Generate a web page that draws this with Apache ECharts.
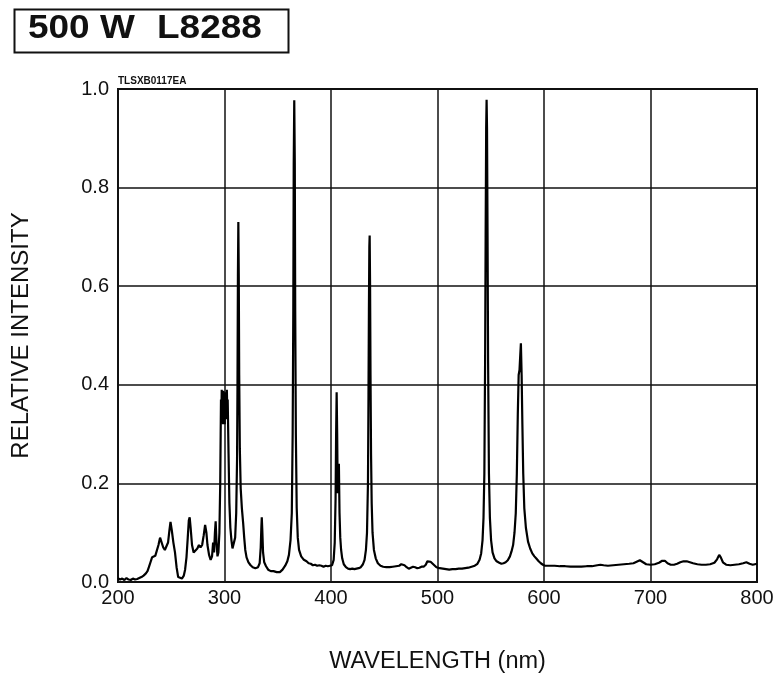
<!DOCTYPE html>
<html>
<head>
<meta charset="utf-8">
<script src="https://cdn.jsdelivr.net/npm/echarts@6/dist/echarts.min.js"></script>
<style>
html,body{margin:0;padding:0;background:#fff;}
#chart{width:776px;height:677px;}
</style>
</head>
<body>
<div id="chart"></div>
<script>
// Wavelength (nm) samples (one line per region)
var wavelength = [
200,202,204,206,208,210,212,214,216,218,220,222,224,226,227.7,229,230.5,232,233.5,235,236.5,238,239.5,241,242.5,244,245.5,247,248.3,249.3,250.5,252,253.5,255,256.5,258,260,
261.8,263,264.3,265.5,266.5,267.3,268.2,269.5,271,272.8,274.5,276,277.5,279,280.5,281.8,283,284,285.5,287,288.3,289.3,290.2,291,291.7,292.5,293.4,294.3,295.2,
296,296.4,296.7,297.1,297.4,297.8,298.2,298.6,299,299.4,299.8,300.2,300.6,301,301.4,301.8,302.2,302.6,303,303.8,304.6,305.5,306.5,307.5,308.8,310,
311,311.8,312.2,312.6,313,313.4,313.8,314.4,315.2,316.3,317.5,318.5,319.5,320.7,322.5,324.5,326.5,329,331.5,
333,334,334.6,335,335.5,336.2,337.3,339,341,343.5,346,349,352,354.5,357,359,360.5,362,
363.2,364,364.6,365,365.5,366,366.4,367,367.8,368.8,370,372,374.5,377,379,381,383,385,387,389,391,393,395,397,399,401,
402.5,403.5,404.3,404.8,405.3,405.8,406.3,406.9,407.4,408,408.7,409.5,410.5,412,414,416,418,420,422,424,426,428,430,
431.5,432.8,433.8,434.7,435.2,435.6,436,436.3,436.7,437.1,437.6,438.2,439,440.3,442,444,446.5,449,452,455,458,461,464,466,467.5,469,471,473,475,477,479,481,483,485,487,489,490.5,492,493.5,495,497,499,
502,505,508,511,514,517,520,523,526,529,532,535,537.5,539.5,541,542.3,543.2,544,
544.7,545.2,545.7,546.1,546.5,547,547.5,548.3,549.2,550.3,551.7,553.5,555.5,558,560,562,564,566,568,
569.5,571,572.3,573.5,574.5,575.4,576.2,577,577.7,578.3,579,579.7,580.5,581.5,583,585,587,589,591,593,595,597,599,601,
605,610,615,620,625,630,635,640,645,650,653,656,660,665,670,675,680,684,687,690,693,696,700,704,708,711,713.5,716,719,722,725,728,731,734,737,740,744,748,752,756,760,762.5,764.5,766,768,771,775,779,783,787,790,793,796,800
];
// Relative intensity at each wavelength above (same line layout)
var intensity = [
0.008,0.005,0.007,0.004,0.008,0.005,0.004,0.007,0.005,0.006,0.008,0.010,0.013,0.017,0.022,0.030,0.040,0.050,0.048,0.053,0.056,0.075,0.090,0.086,0.070,0.065,0.064,0.080,0.105,0.122,0.105,0.080,0.060,0.030,0.010,0.006,0.007,
0.013,0.025,0.050,0.090,0.125,0.131,0.110,0.075,0.060,0.056,0.068,0.075,0.070,0.075,0.095,0.116,0.100,0.075,0.055,0.045,0.052,0.080,0.060,0.100,0.123,0.080,0.052,0.060,0.100,
0.200,0.300,0.370,0.340,0.390,0.330,0.370,0.320,0.388,0.330,0.380,0.320,0.385,0.340,0.375,0.330,0.390,0.350,0.370,0.260,0.160,0.110,0.085,0.068,0.072,0.090,
0.140,0.250,0.400,0.620,0.730,0.620,0.420,0.270,0.190,0.150,0.120,0.090,0.065,0.050,0.040,0.034,0.030,0.028,0.030,
0.038,0.070,0.110,0.131,0.105,0.060,0.040,0.032,0.025,0.022,0.022,0.020,0.020,0.025,0.033,0.042,0.055,0.085,
0.140,0.300,0.550,0.850,0.977,0.850,0.550,0.300,0.150,0.090,0.065,0.052,0.045,0.042,0.038,0.037,0.034,0.035,0.033,0.034,0.033,0.031,0.033,0.032,0.033,0.034,
0.045,0.080,0.170,0.300,0.385,0.300,0.180,0.200,0.240,0.140,0.090,0.065,0.048,0.036,0.030,0.027,0.026,0.027,0.026,0.027,0.028,0.030,0.036,
0.045,0.065,0.100,0.200,0.380,0.550,0.680,0.703,0.600,0.420,0.260,0.160,0.100,0.065,0.048,0.038,0.033,0.031,0.030,0.030,0.031,0.032,0.033,0.036,0.039,0.034,0.030,0.027,0.029,0.031,0.030,0.028,0.029,0.031,0.031,0.035,0.042,0.044,0.041,0.042,0.034,0.030,
0.028,0.027,0.026,0.025,0.026,0.026,0.027,0.027,0.028,0.029,0.031,0.033,0.037,0.045,0.058,0.085,0.130,0.220,
0.450,0.700,0.920,0.978,0.920,0.700,0.450,0.220,0.130,0.085,0.060,0.048,0.042,0.039,0.037,0.038,0.040,0.044,0.052,
0.062,0.075,0.100,0.140,0.220,0.340,0.420,0.430,0.460,0.484,0.420,0.320,0.220,0.150,0.110,0.082,0.068,0.058,0.052,0.047,0.042,0.038,0.035,0.033,
0.033,0.033,0.032,0.032,0.031,0.031,0.031,0.032,0.032,0.034,0.035,0.034,0.033,0.034,0.035,0.036,0.037,0.038,0.041,0.044,0.040,0.036,0.035,0.036,0.039,0.043,0.043,0.038,0.035,0.035,0.037,0.040,0.042,0.042,0.040,0.038,0.036,0.035,0.035,0.036,0.039,0.046,0.055,0.050,0.040,0.035,0.034,0.035,0.036,0.038,0.040,0.037,0.035,0.037
];
var xRange = [200, 800];
var yRange = [0, 1];
var titleText = ['500 W', 'L8288'];
var codeText = 'TLSXB0117EA';
var xName = 'WAVELENGTH (nm)';
var yName = 'RELATIVE INTENSITY';

var points = wavelength.map(function (w, i) { return [w, intensity[i]]; });

var font = "'Liberation Sans', Arial, Helvetica, sans-serif";
var chart = echarts.init(document.getElementById('chart'), null, {renderer: 'canvas'});
chart.setOption({
  animation: false,
  backgroundColor: '#fff',
  grid: {left: 118, right: 19, top: 89, bottom: 95, show: true, borderColor: '#111', borderWidth: 2,
         containLabel: false, outerBoundsMode: 'none'},
  xAxis: {
    type: 'value', min: xRange[0], max: xRange[1], interval: 100,
    name: xName, nameLocation: 'middle', nameGap: 68,
    nameTextStyle: {color: '#111', fontSize: 23.5, fontFamily: font},
    axisLine: {show: true, lineStyle: {color: '#111', width: 2}},
    axisTick: {show: false},
    axisLabel: {color: '#111', fontSize: 20, fontFamily: font, margin: 6},
    splitLine: {show: true, lineStyle: {color: '#111', width: 1.5}}
  },
  yAxis: {
    type: 'value', min: yRange[0], max: yRange[1], interval: 0.2,
    name: yName, nameLocation: 'middle', nameGap: 85,
    nameTextStyle: {color: '#111', fontSize: 24, fontFamily: font},
    axisLine: {show: true, lineStyle: {color: '#111', width: 2}},
    axisTick: {show: false},
    axisLabel: {color: '#111', fontSize: 20, fontFamily: font, margin: 9,
      formatter: function (v) { return v.toFixed(1); }},
    splitLine: {show: true, lineStyle: {color: '#111', width: 1.5}}
  },
  graphic: [
    {type: 'rect', left: 12, top: 7, shape: {width: 274, height: 43},
     style: {fill: 'none', stroke: '#111', lineWidth: 2}},
    {type: 'text', x: 28, y: 12, scaleX: 1.12,
     style: {text: titleText[0], font: 'bold 33px ' + font, fill: '#111'}},
    {type: 'text', x: 157, y: 12, scaleX: 1.12,
     style: {text: titleText[1], font: 'bold 33px ' + font, fill: '#111'}},
    {type: 'text', x: 118, y: 76,
     style: {text: codeText, font: 'bold 10px ' + font, fill: '#111'}}
  ],
  series: [{
    type: 'line', data: points, showSymbol: false, symbol: 'none',
    lineStyle: {color: '#000', width: 2.2}, z: 5
  }]
});
</script>
</body>
</html>
